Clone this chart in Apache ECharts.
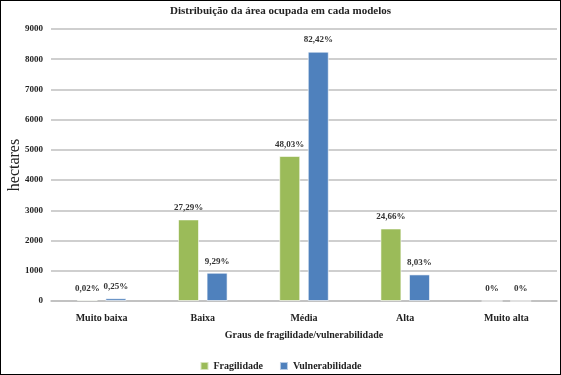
<!DOCTYPE html>
<html>
<head>
<meta charset="utf-8">
<script src="https://cdn.jsdelivr.net/npm/echarts@6/dist/echarts.min.js"></script>
<style>
	html, body { margin: 0; padding: 0; background: #fff; }
	#chart { width: 559px; height: 373px; border: 1px solid #000; }
</style>
</head>
<body>
<div id="chart"></div>
<script>
// categorias (graus)
const categories = ['Muito baixa', 'Baixa', 'Média', 'Alta', 'Muito alta'];
// hectares
const fragilidade = [40, 2700, 4800, 2400, 0];
const vulnerabilidade = [90, 935, 8250, 880, 0];
// rótulos em percentual
const fragLabels = ['0,02%', '27,29%', '48,03%', '24,66%', '0%'];
const vulnLabels = ['0,25%', '9,29%', '82,42%', '8,03%', '0%'];

const serif = '"Liberation Serif", "DejaVu Serif", serif';

const chart = echarts.init(document.getElementById('chart'));

function barSeries(name, values, labels, color) {
	return {
		name: name,
		type: 'bar',
		data: values,
		barWidth: 21,
		barGap: '36%',
		itemStyle: { color: color, borderColor: 'rgba(255,255,255,0.6)', borderWidth: 1 },
		label: {
			show: true,
			position: 'top',
			distance: 7,
			formatter: function (p) { return labels[p.dataIndex]; },
			fontFamily: serif,
			fontSize: 9,
			fontWeight: 'bold',
			color: '#333'
		}
	};
}

chart.setOption({
	animation: false,
	title: {
		text: 'Distribuição da área ocupada em cada modelos',
		left: 'center',
		top: 5,
		padding: 0,
		textStyle: { fontFamily: serif, fontSize: 11, fontWeight: 'bold', color: '#222' }
	},
	legend: {
		bottom: 3,
		left: 'center',
		padding: 0,
		itemWidth: 8,
		itemHeight: 8,
		itemGap: 16,
		icon: 'rect',
		textStyle: { fontFamily: serif, fontSize: 10, fontWeight: 'bold', color: '#222' },
		data: ['Fragilidade', 'Vulnerabilidade']
	},
	grid: { left: 50, right: 3, top: 28, bottom: 73, outerBoundsMode: 'none' },
	xAxis: {
		type: 'category',
		data: categories,
		name: 'Graus de fragilidade/vulnerabilidade',
		nameLocation: 'middle',
		nameGap: 29,
		nameMoveOverlap: false,
		nameTextStyle: { fontFamily: serif, fontSize: 10, fontWeight: 'bold', color: '#222' },
		axisLine: { lineStyle: { color: '#bfbfbf', width: 1.5 } },
		axisTick: { show: false },
		axisLabel: { fontFamily: serif, fontSize: 10, fontWeight: 'bold', color: '#222', margin: 12 }
	},
	yAxis: {
		type: 'value',
		min: 0,
		max: 9000,
		interval: 1000,
		name: 'hectares',
		nameLocation: 'middle',
		nameRotate: 90,
		nameGap: 28,
		nameMoveOverlap: false,
		nameTextStyle: { fontFamily: serif, fontSize: 16, color: '#222' },
		axisLine: { show: false },
		axisTick: { show: false },
		axisLabel: {
			fontFamily: serif, fontSize: 9, fontWeight: 'bold', color: '#222', margin: 8,
			formatter: function (v) { return String(v); }
		},
		splitLine: { lineStyle: { color: '#bfbfbf', width: 1.5 } }
	},
	series: [
		barSeries('Fragilidade', fragilidade, fragLabels, '#9BBB59'),
		barSeries('Vulnerabilidade', vulnerabilidade, vulnLabels, '#4F81BD')
	]
});
</script>
</body>
</html>
